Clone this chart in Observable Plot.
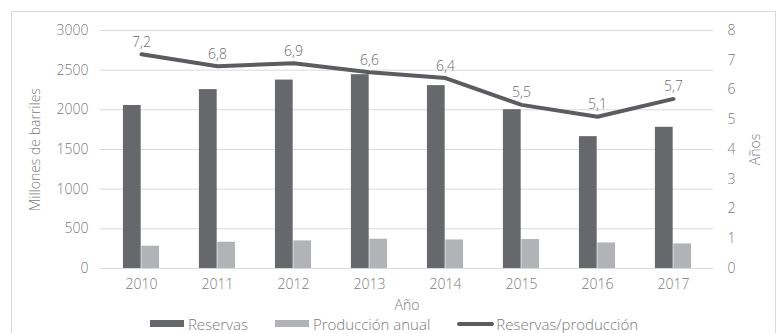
<!DOCTYPE html>
<html>
<head>
<meta charset="utf-8">
<script src="https://cdn.jsdelivr.net/npm/d3@7"></script>
<script src="https://cdn.jsdelivr.net/npm/@observablehq/plot@0.6"></script>
<style>
  body { margin: 0; background: #fff; font-family: "Open Sans", Lato, sans-serif; }
  #wrap { position: relative; width: 779px; height: 333px; overflow: hidden; }
  #frame { position: absolute; left: 11px; top: 11px; width: 765px; height: 340px; border: 1px solid #d9d9d9; box-sizing: border-box; }
  #chart { position: absolute; left: 0; top: 0; }
  #legend { position: absolute; left: 11px; top: 314px; width: 766px; height: 19px; display: flex; justify-content: center; align-items: center; gap: 27px; font-size: 15px; color: #7a7a7a; font-weight: 300; }
  .item { display: flex; align-items: center; }
  .sw { display: inline-block; width: 34px; height: 7px; margin-right: 4px; }
  .ln { display: inline-block; width: 37px; height: 4px; border-radius: 2px; margin-right: 2px; }
</style>
</head>
<body>
<div id="wrap">
  <div id="frame"></div>
  <div id="chart"></div>
  <div id="legend">
    <span class="item"><span class="sw" style="background:#67686c"></span>Reservas</span>
    <span class="item"><span class="sw" style="background:#b2b3b6"></span>Producción anual</span>
    <span class="item"><span class="ln" style="background:#5b5c5f"></span>Reservas/producción</span>
  </div>
</div>
<script>
const years = ["2010","2011","2012","2013","2014","2015","2016","2017"];
const reservas = [2055, 2255, 2375, 2443, 2305, 2002, 1662, 1780];
const produccion = [281, 331, 348, 369, 360, 365, 322, 310];
const ratio = [7.2, 6.8, 6.9, 6.6, 6.4, 5.5, 5.1, 5.7];
const leftTicks = [0, 500, 1000, 1500, 2000, 2500, 3000];
const rightTicks = [0, 1, 2, 3, 4, 5, 6, 7, 8];

const leftMax = 3000, rightMax = 8;
const k = leftMax / rightMax;

const rows = years.map((y, i) => ({year: y, reservas: reservas[i], produccion: produccion[i], ratio: ratio[i]}));

const W = 779, H = 314;
const mL = 100, mR = 66, mT = 30, mB = 46;
const bw = (W - mL - mR) / years.length;
const barW = 18.4;

const fmt = d3.formatLocale({decimal: ",", thousands: ".", grouping: [3], currency: ["", ""]}).format(".1f");

const chart = Plot.plot({
  width: W, height: H,
  marginLeft: mL, marginRight: mR, marginTop: mT, marginBottom: mB,
  style: {fontFamily: "'Open Sans', Lato, sans-serif", fontSize: "14px", color: "#7a7a7a", fontWeight: 300},
  x: {domain: years, padding: 0},
  y: {domain: [0, leftMax]},
  marks: [
    Plot.gridY(leftTicks, {stroke: "#d9d9d9", strokeOpacity: 1, strokeWidth: 1}),
    Plot.barY(rows, {x: "year", y: "reservas", fill: "#67686c", insetLeft: bw/2 - barW, insetRight: bw/2}),
    Plot.barY(rows, {x: "year", y: "produccion", fill: "#b2b3b6", insetLeft: bw/2, insetRight: bw/2 - barW}),
    Plot.line(rows, {x: "year", y: d => d.ratio * k, stroke: "#5b5c5f", strokeWidth: 4, strokeLinecap: "round", strokeLinejoin: "round"}),
    Plot.text(rows, {x: "year", y: d => d.ratio * k, text: d => fmt(d.ratio), dy: -12, fill: "#6e6e6e", fontSize: 14}),
    Plot.axisY(leftTicks, {anchor: "left", tickSize: 0, tickPadding: 12, tickFormat: d => String(d), label: "Millones de barriles", labelArrow: false, labelAnchor: "center", labelOffset: 70, fill: "#7a7a7a"}),
    Plot.axisY(rightTicks.map(d => d * k), {anchor: "right", tickSize: 0, tickPadding: 14, tickFormat: d => String(d / k), textAnchor: "start", label: "Años", labelArrow: false, labelAnchor: "center", labelOffset: 46, fill: "#7a7a7a"}),
    Plot.axisX({tickSize: 0, tickPadding: 11, label: "Año", labelArrow: false, labelAnchor: "center", labelOffset: 41, fill: "#7a7a7a"})
  ]
});
document.getElementById("chart").appendChild(chart);
</script>
</body>
</html>
